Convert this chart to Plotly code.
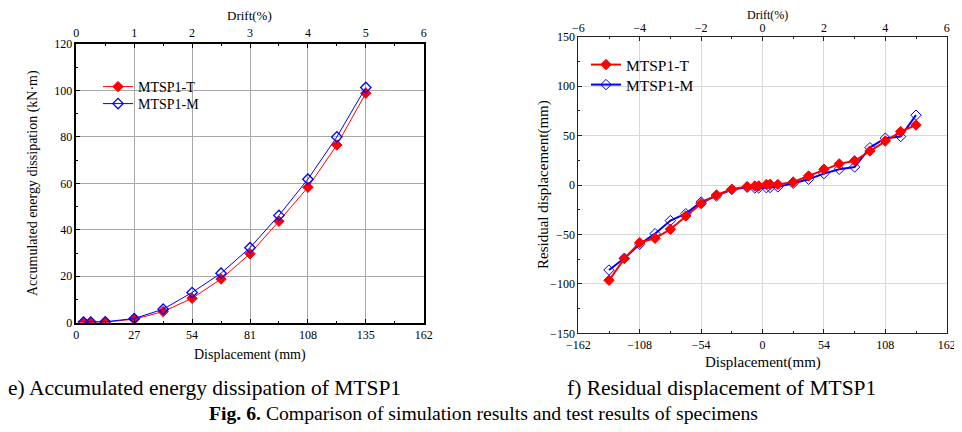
import plotly.graph_objects as go

# ---- data: e) accumulated energy dissipation ----
disp_e = [3.375, 6.75, 13.5, 27, 40.5, 54, 67.5, 81, 94.5, 108, 121.5, 135]
energy_T = [0.2, 0.2, 0.3, 1.5, 4.8, 10.5, 18.8, 29.7, 43.7, 58.3, 76.5, 98.8]
energy_M = [0.3, 0.3, 0.4, 1.8, 5.8, 13.0, 21.3, 32.3, 46.2, 61.8, 80.0, 101.3]

# ---- data: f) residual displacement ----
disp_r = [-135, -121.5, -108, -94.5, -81, -67.5, -54, -40.5, -27, -13.5, -6.75, -3.375,
          3.375, 6.75, 13.5, 27, 40.5, 54, 67.5, 81, 94.5, 108, 121.5, 135]
resid_T = [-96.4, -74.4, -58.3, -53.9, -44.8, -31.3, -18.8, -10.1, -4.3, -1.6, -1.0, -1.0,
           0.5, 0.7, 0.5, 3.0, 9.1, 15.9, 21.4, 24.5, 34.4, 44.5, 54.0, 60.7]
resid_M = [-86.0, -74.1, -60.0, -49.2, -36.0, -29.0, -17.2, -11.1, -4.5, -2.3, -3.0, -3.0,
           -2.7, -2.5, -1.9, 1.7, 5.8, 11.5, 15.9, 18.2, 37.8, 47.4, 49.0, 70.6]

# drift (top) axis extents
drift_e = [0, 6]
drift_r = [-6, 6]

series_names = ["MTSP1-T", "MTSP1-M"]
RED = "#ff0000"
BLUE = "#0000ff"
FONT = "Liberation Serif"
OFF = 8                      # page body margin of the browser
W, H = 962 - OFF, 432 - OFF

fig = go.Figure()

# left panel
fig.add_trace(go.Scatter(x=disp_e, y=energy_T, name=series_names[0], mode="lines+markers",
                         line=dict(color=RED, width=1),
                         marker=dict(symbol="diamond", size=8, color=RED, line=dict(color=RED, width=1)),
                         xaxis="x", yaxis="y", legend="legend"))
fig.add_trace(go.Scatter(x=disp_e, y=energy_M, name=series_names[1], mode="lines+markers",
                         line=dict(color=BLUE, width=1),
                         marker=dict(symbol="diamond-open", size=8, color=BLUE, line=dict(color=BLUE, width=1.3)),
                         xaxis="x", yaxis="y", legend="legend3"))
# right panel (blue first so red is drawn on top)
fig.add_trace(go.Scatter(x=disp_r, y=resid_M, name=series_names[1], mode="lines+markers",
                         line=dict(color=BLUE, width=2),
                         marker=dict(symbol="diamond-open", size=8, color=BLUE, line=dict(color=BLUE, width=1)),
                         xaxis="x2", yaxis="y2", legend="legend4"))
fig.add_trace(go.Scatter(x=disp_r, y=resid_T, name=series_names[0], mode="lines+markers",
                         line=dict(color=RED, width=2),
                         marker=dict(symbol="diamond", size=8, color=RED, line=dict(color=RED, width=1)),
                         xaxis="x2", yaxis="y2", legend="legend2"))
# invisible carriers for the top drift axes
fig.add_trace(go.Scatter(x=drift_e, y=[0, 0], mode="none", showlegend=False, hoverinfo="skip",
                         xaxis="x3", yaxis="y"))
fig.add_trace(go.Scatter(x=drift_r, y=[0, 0], mode="none", showlegend=False, hoverinfo="skip",
                         xaxis="x4", yaxis="y2"))


def px2x(p):
    return (p - OFF) / W


def px2y(p):
    return 1 - (p - OFF) / H


tickfont = dict(family=FONT, size=12, color="black")

axis_common = dict(showline=True, mirror=True, ticks="inside", ticklen=4, tickfont=tickfont,
                   zeroline=False, automargin=False)

left_dom_x = [px2x(76.3), px2x(423.7)]
left_dom_y = [px2y(322.7), px2y(44)]
right_dom_x = [px2x(578.3), px2x(946.7)]
right_dom_y = [px2y(333.3), px2y(36.7)]


def legend_at(x, y_row, size):
    return dict(x=px2x(x), y=px2y(y_row - 15), xanchor="left", yanchor="top",
                bgcolor="rgba(0,0,0,0)", borderwidth=0,
                font=dict(family=FONT, size=size, color="black"))


fig.update_layout(
    xaxis=dict(domain=left_dom_x, range=[0, 162], tickmode="linear", tick0=0, dtick=27,
               anchor="y", showgrid=True, gridcolor="#a8a8a8", gridwidth=1,
               linecolor="black", linewidth=1.5, tickcolor="black",
               minor=dict(ticks="inside", ticklen=2, dtick=13.5, tickcolor="black", showgrid=False),
               **axis_common),
    yaxis=dict(domain=left_dom_y, range=[0, 120], tickmode="linear", tick0=0, dtick=20,
               anchor="x", showgrid=True, gridcolor="#a8a8a8", gridwidth=1,
               linecolor="black", linewidth=1.5, tickcolor="black",
               minor=dict(ticks="inside", ticklen=2, dtick=10, tickcolor="black", showgrid=False),
               **axis_common),
    xaxis3=dict(overlaying="x", side="top", anchor="y", range=drift_e, tickmode="linear", tick0=0, dtick=1,
                showgrid=False, showline=False, ticks="inside", ticklen=4, tickcolor="black",
                tickfont=tickfont, zeroline=False, automargin=False, ticklabelstandoff=4,
                minor=dict(ticks="inside", ticklen=2, dtick=0.5, tickcolor="black")),
    xaxis2=dict(domain=right_dom_x, range=[-162, 162], tickmode="linear", tick0=0, dtick=54,
                anchor="y2", showgrid=True, gridcolor="#d9d9d9", gridwidth=1,
                linecolor="#222", linewidth=1, tickcolor="#222",
                minor=dict(ticks="inside", ticklen=2, dtick=27, tickcolor="#222", showgrid=False),
                **axis_common),
    yaxis2=dict(domain=right_dom_y, range=[-150, 150], tickmode="linear", tick0=0, dtick=50,
                anchor="x2", showgrid=True, gridcolor="#d9d9d9", gridwidth=1,
                linecolor="#222", linewidth=1, tickcolor="#222",
                minor=dict(ticks="inside", ticklen=2, dtick=25, tickcolor="#222", showgrid=False),
                **axis_common),
    xaxis4=dict(overlaying="x2", side="top", anchor="y2", range=drift_r, tickmode="linear", tick0=0, dtick=2,
                showgrid=False, showline=False, ticks="inside", ticklen=4, tickcolor="#222",
                tickfont=tickfont, zeroline=False, automargin=False, ticklabelstandoff=1,
                minor=dict(ticks="inside", ticklen=2, dtick=1, tickcolor="#222")),
    legend=legend_at(98, 86, 14),
    legend3=legend_at(98, 103, 14),
    legend2=legend_at(586, 63, 15.5),
    legend4=legend_at(586, 83, 15.5),
    width=W, height=H, margin=dict(l=0, r=0, t=0, b=0, autoexpand=False),
    paper_bgcolor="white", plot_bgcolor="white",
    showlegend=True,
    font=dict(family=FONT, color="black"),
)

ann = []


def add_text(text, x, y, size, angle=0, xanchor="center"):
    ann.append(dict(text=text, x=px2x(x), y=px2y(y), xref="paper", yref="paper",
                    showarrow=False, textangle=angle, xanchor=xanchor, yanchor="middle",
                    font=dict(family=FONT, size=size, color="black")))


add_text("Drift(%)", 250, 16, 13)
add_text("Displacement (mm)", 250, 355, 14)
add_text("Accumulated energy dissipation (kN·m)", 33, 183, 14, angle=-90)
add_text("Drift(%)", 767, 15, 12)
add_text("Displacement(mm)", 763, 362, 15)
add_text("Residual displacement(mm)", 543, 185, 15, angle=-90)
add_text("e) Accumulated energy dissipation of MTSP1", 6, 388, 21.5, xanchor="left")
add_text("f) Residual displacement of MTSP1", 565, 388, 21.5, xanchor="left")
add_text("<b>Fig. 6.</b> Comparison of simulation results and test results of specimens", 483, 413, 19.7)
fig.update_layout(annotations=ann)

fig.write_html("out.html")
